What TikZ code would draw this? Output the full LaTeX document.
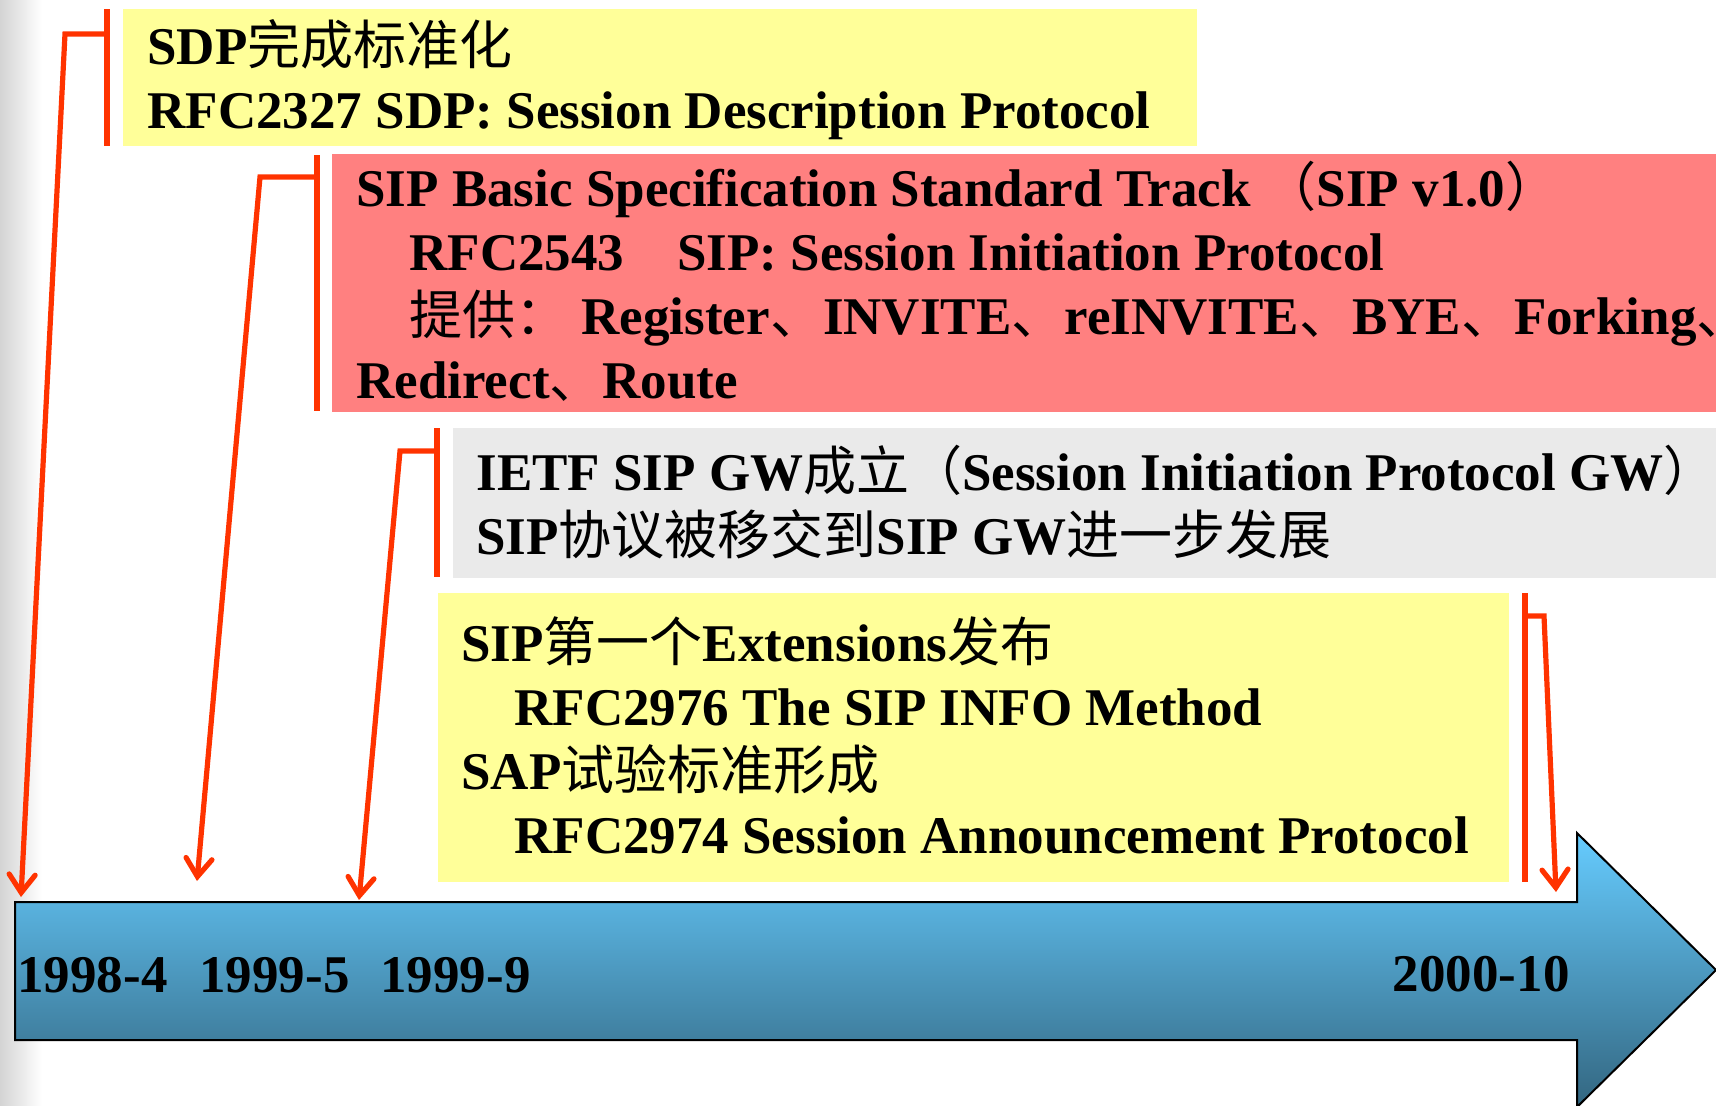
\documentclass[tikz,border=0pt]{standalone}
\usepackage{fontspec}
\setmainfont{Liberation Serif}
\newfontfamily\cjk{Noto Sans CJK SC}
\newcommand{\zh}[1]{{\cjk\mdseries #1}}
\usetikzlibrary{arrows.meta}
\definecolor{markred}{RGB}{255,51,0}
\definecolor{noteyellow}{RGB}{255,255,153}
\definecolor{notepink}{RGB}{255,128,128}
\definecolor{notegray}{RGB}{234,234,234}
\definecolor{barlight}{RGB}{102,204,255}
\definecolor{bardark}{RGB}{51,102,128}
\begin{document}
\begin{tikzpicture}[x=0.5pt,y=-0.5pt,
  every node/.style={inner sep=0pt,font=\bfseries\fontsize{26.5}{32}\selectfont},
  note/.style={anchor=base west,align=left},
  date/.style={anchor=base west},
  bracket/.style={markred,line width=2.6pt},
  pointer/.style={markred,line width=2.6pt,-{Straight Barb[length=9pt,width=13pt,line cap=round]}}]
  \useasboundingbox (0,0) rectangle (1716,1105);
  \clip (0,0) rectangle (1716,1105);
  \def\barleft{15}
  \def\bartop{902}
  \def\barbot{1040}
  \def\headx{1577}

  % left page shadow
  \shade[left color=black!17,right color=white] (0,0) rectangle (42,1105);

  % time bar
  \shade[top color=barlight,bottom color=bardark,draw=black,line width=1pt]
    (\barleft,\bartop) -- (\headx,\bartop) -- (\headx,833) -- (1716,970)
    -- (\headx,1107) -- (\headx,\barbot) -- (\barleft,\barbot) -- cycle;
  \node[date] (d1) at (17,992) {1998-4};
  \node[date] (d2) at (199,992) {1999-5};
  \node[date] (d3) at (380,992) {1999-9};
  \node[date,anchor=base east] (d4) at (1570,991) {2000-10};

  % notes (anchored at the baseline of their last line)
  \fill[noteyellow] (123,9) rectangle (1197,146);
  \node[note] (sdp) at (147,128) {SDP\zh{完成标准化}\\RFC2327 SDP: Session Description Protocol};

  \fill[notepink] (332,154) rectangle (1716,412);
  \node[note] (sip) at (356,398) {SIP Basic Specification Standard Track \zh{（}SIP v1.0\zh{）}\\
    \hspace*{1em}RFC2543\hspace{1em}SIP: Session Initiation Protocol\\
    \hspace*{1em}\zh{提供：} Register\zh{、}INVITE\zh{、}reINVITE\zh{、}BYE\zh{、}Forking\zh{、}\\
    Redirect\zh{、}Route};

  \fill[notegray] (453,428) rectangle (1716,578);
  \node[note] (gw) at (476,554) {IETF SIP GW\zh{成立（}Session Initiation Protocol GW\zh{）}\\
    SIP\zh{协议被移交到}SIP GW\zh{进一步发展}};

  \fill[noteyellow] (438,593) rectangle (1509,882);
  \node[note] (ext) at (461,853) {SIP\zh{第一个}Extensions\zh{发布}\\
    \hspace*{1em}RFC2976 The SIP INFO Method\\
    SAP\zh{试验标准形成}\\
    \hspace*{1em}RFC2974 Session Announcement Protocol};

  % brackets and pointers
  \coordinate (t1) at (21,897);
  \coordinate (t2) at (197,881);
  \coordinate (t3) at (359,900);
  \coordinate (t4) at (1556,892);
  \draw[bracket] (107,9) -- (107,146);
  \draw[pointer] (107,34) -- (65,34) -- (t1);
  \draw[bracket] (317,155) -- (317,411);
  \draw[pointer] (317,177) -- (260,177) -- (t2);
  \draw[bracket] (437,428) -- (437,577);
  \draw[pointer] (437,451) -- (400,451) -- (t3);
  \draw[bracket] (1525,593) -- (1525,882);
  \draw[pointer] (1525,616) -- (1544,616) -- (t4);
\end{tikzpicture}
\end{document}
